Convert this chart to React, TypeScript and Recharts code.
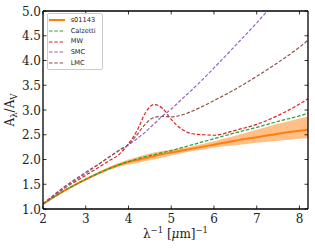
import React from 'react';
import { ComposedChart, Line, Area, XAxis, YAxis } from 'recharts';

// inverse wavelength grid [um^-1]
const lambdaInv = [2, 2.5, 3, 3.5, 3.8, 4, 4.2, 4.4, 4.6, 4.8, 5, 5.25, 5.5, 5.75, 6, 6.5, 7, 7.5, 8, 8.2];

// A_lambda / A_V for each curve
const s01143 = [1.1, 1.37, 1.6, 1.8, 1.9, 1.95, 1.99, 2.03, 2.07, 2.11, 2.14, 2.18, 2.22, 2.26, 2.3, 2.38, 2.45, 2.52, 2.58, 2.6];
const s01143Lo = [1.1, 1.36, 1.58, 1.77, 1.86, 1.9, 1.93, 1.97, 2.0, 2.04, 2.08, 2.13, 2.17, 2.2, 2.24, 2.29, 2.34, 2.38, 2.42, 2.43];
const s01143Hi = [1.1, 1.38, 1.62, 1.83, 1.94, 2.0, 2.05, 2.1, 2.14, 2.17, 2.2, 2.23, 2.27, 2.32, 2.37, 2.48, 2.6, 2.72, 2.83, 2.87];
const calzetti = [1.1, 1.37, 1.6, 1.8, 1.9, 1.96, 2.01, 2.06, 2.1, 2.14, 2.18, 2.24, 2.3, 2.36, 2.42, 2.54, 2.65, 2.77, 2.88, 2.93];
const mw = [1.1, 1.42, 1.68, 1.95, 2.12, 2.32, 2.58, 2.95, 3.11, 3.03, 2.81, 2.61, 2.52, 2.5, 2.49, 2.59, 2.71, 2.89, 3.12, 3.23];
const smc = [1.1, 1.43, 1.72, 2.02, 2.19, 2.3, 2.42, 2.56, 2.72, 2.88, 3.02, 3.22, 3.42, 3.63, 3.85, 4.3, 4.76, 5.25, 5.75, 5.95];
const lmc = [1.1, 1.45, 1.74, 2.02, 2.2, 2.3, 2.5, 2.72, 2.85, 2.87, 2.86, 2.9, 2.98, 3.08, 3.19, 3.42, 3.68, 3.96, 4.27, 4.41];

const xTicks = [2, 3, 4, 5, 6, 7, 8];
const yTicks = [1.0, 1.5, 2.0, 2.5, 3.0, 3.5, 4.0, 4.5, 5.0];

const data = lambdaInv.map((x, i) => ({
  x,
  s01143: s01143[i],
  band: [s01143Lo[i], s01143Hi[i]],
  calzetti: calzetti[i],
  mw: mw[i],
  smc: smc[i],
  lmc: lmc[i],
}));

const dashed = [
  { key: 'calzetti', name: 'Calzetti', color: '#2ca02c' },
  { key: 'mw', name: 'MW', color: '#d62728' },
  { key: 'smc', name: 'SMC', color: '#9467bd' },
  { key: 'lmc', name: 'LMC', color: '#8c564b' },
];

const ORANGE = '#ff7f0e';
const SERIF = "'DejaVu Serif', serif";
const TICK = 3.5;
const serifStyle = { fontFamily: SERIF, fontSize: 12 };

const BottomTick = ({ x, y, payload }: any) => (
  <g>
    <line x1={x} y1={y} x2={x} y2={y - TICK} stroke="#000" strokeWidth={0.8} />
    <text x={x} y={y + 14} textAnchor="middle" style={serifStyle} fill="#222">
      {payload.value}
    </text>
  </g>
);

const LeftTick = ({ x, y, payload }: any) => (
  <g>
    <line x1={x} y1={y} x2={x + TICK} y2={y} stroke="#000" strokeWidth={0.8} />
    <text x={x - 2} y={y + 4.5} textAnchor="end" style={serifStyle} fill="#222">
      {Number(payload.value).toFixed(1)}
    </text>
  </g>
);

const TopTick = ({ x, y }: any) => (
  <line x1={x} y1={y} x2={x} y2={y + TICK} stroke="#000" strokeWidth={0.8} />
);

const RightTick = ({ x, y }: any) => (
  <line x1={x} y1={y} x2={x - TICK} y2={y} stroke="#000" strokeWidth={0.8} />
);

const XLabel = ({ viewBox }: any) => (
  <text x={viewBox.x + viewBox.width / 2} y={viewBox.y + 29} textAnchor="middle" style={serifStyle} fill="#222">
    λ<tspan dy={-5} fontSize={8.5}>−1</tspan>
    <tspan dy={5}> [</tspan>
    <tspan fontStyle="italic">μ</tspan>m]
    <tspan dy={-5} fontSize={8.5}>−1</tspan>
  </text>
);

const YLabel = ({ viewBox }: any) => {
  const cx = viewBox.x + 14;
  const cy = viewBox.y + viewBox.height / 2;
  return (
    <text
      x={cx}
      y={cy}
      transform={`rotate(-90 ${cx} ${cy})`}
      textAnchor="middle"
      style={serifStyle}
      fill="#222"
    >
      A<tspan dy={3} fontSize={8.5}>λ</tspan>
      <tspan dy={-3}>/A</tspan>
      <tspan dy={3} fontSize={8.5}>V</tspan>
    </text>
  );
};

function LegendBox() {
  const rows = [{ name: 's01143', color: ORANGE, solid: true }, ...dashed.map((d) => ({ name: d.name, color: d.color, solid: false }))];
  return (
    <div
      style={{
        position: 'absolute',
        left: 47,
        top: 13,
        border: '1px solid #cccccc',
        borderRadius: 2,
        background: 'rgba(255,255,255,0.8)',
        padding: '1px 6px 1px 1px',
        fontFamily: '"DejaVu Sans", sans-serif',
        fontSize: 6.6,
        color: '#222',
      }}
    >
      {rows.map((r) => (
        <div key={r.name} style={{ display: 'flex', alignItems: 'center', height: 10.7 }}>
          <svg width={16} height={6} style={{ display: 'block' }}>
            <line
              x1={0}
              y1={3}
              x2={16}
              y2={3}
              stroke={r.color}
              strokeWidth={r.solid ? 2 : 1.2}
              strokeDasharray={r.solid ? undefined : '3.5 1.8'}
            />
          </svg>
          <span style={{ marginLeft: 5.7, lineHeight: '10.7px' }}>{r.name}</span>
        </div>
      ))}
    </div>
  );
}

export default function App() {
  return (
    <div style={{ position: 'absolute', left: 0, top: 0, width: 315, height: 250, background: '#fff' }}>
      <ComposedChart width={315} height={250} data={data} margin={{ top: 10, right: 6, bottom: 0, left: 0 }}>
        <XAxis
          dataKey="x"
          type="number"
          domain={[2, 8.2]}
          ticks={xTicks}
          interval={0}
          allowDataOverflow
          height={41}
          tickSize={0}
          tickMargin={0}
          tickLine={false}
          axisLine={{ stroke: '#000', strokeWidth: 1.3 }}
          tick={<BottomTick />}
          label={<XLabel />}
        />
        <XAxis
          xAxisId="top"
          orientation="top"
          dataKey="x"
          type="number"
          domain={[2, 8.2]}
          ticks={xTicks}
          interval={0}
          allowDataOverflow
          height={1}
          tickSize={0}
          tickMargin={0}
          tickLine={false}
          axisLine={{ stroke: '#000', strokeWidth: 1.3 }}
          tick={<TopTick />}
        />
        <YAxis
          type="number"
          domain={[1, 5]}
          ticks={yTicks}
          interval={0}
          allowDataOverflow
          width={43}
          tickSize={0}
          tickMargin={0}
          tickLine={false}
          axisLine={{ stroke: '#000', strokeWidth: 1.3 }}
          tick={<LeftTick />}
          label={<YLabel />}
        />
        <YAxis
          yAxisId="right"
          orientation="right"
          type="number"
          domain={[1, 5]}
          ticks={yTicks}
          interval={0}
          allowDataOverflow
          width={1}
          tickSize={0}
          tickMargin={0}
          tickLine={false}
          axisLine={{ stroke: '#000', strokeWidth: 1.3 }}
          tick={<RightTick />}
        />
        {/* band uses the top/right axes, which share the same domains */}
        <Area
          xAxisId="top"
          yAxisId="right"
          type="monotone"
          dataKey="band"
          stroke="none"
          fill={ORANGE}
          fillOpacity={0.5}
          isAnimationActive={false}
        />
        <Line
          type="monotone"
          dataKey="s01143"
          stroke={ORANGE}
          strokeWidth={2}
          dot={false}
          isAnimationActive={false}
        />
        {dashed.map((d) => (
          <Line
            key={d.key}
            type="monotone"
            dataKey={d.key}
            stroke={d.color}
            strokeWidth={1.2}
            strokeDasharray="3.5 1.8"
            dot={false}
            isAnimationActive={false}
          />
        ))}
      </ComposedChart>
      <LegendBox />
    </div>
  );
}
